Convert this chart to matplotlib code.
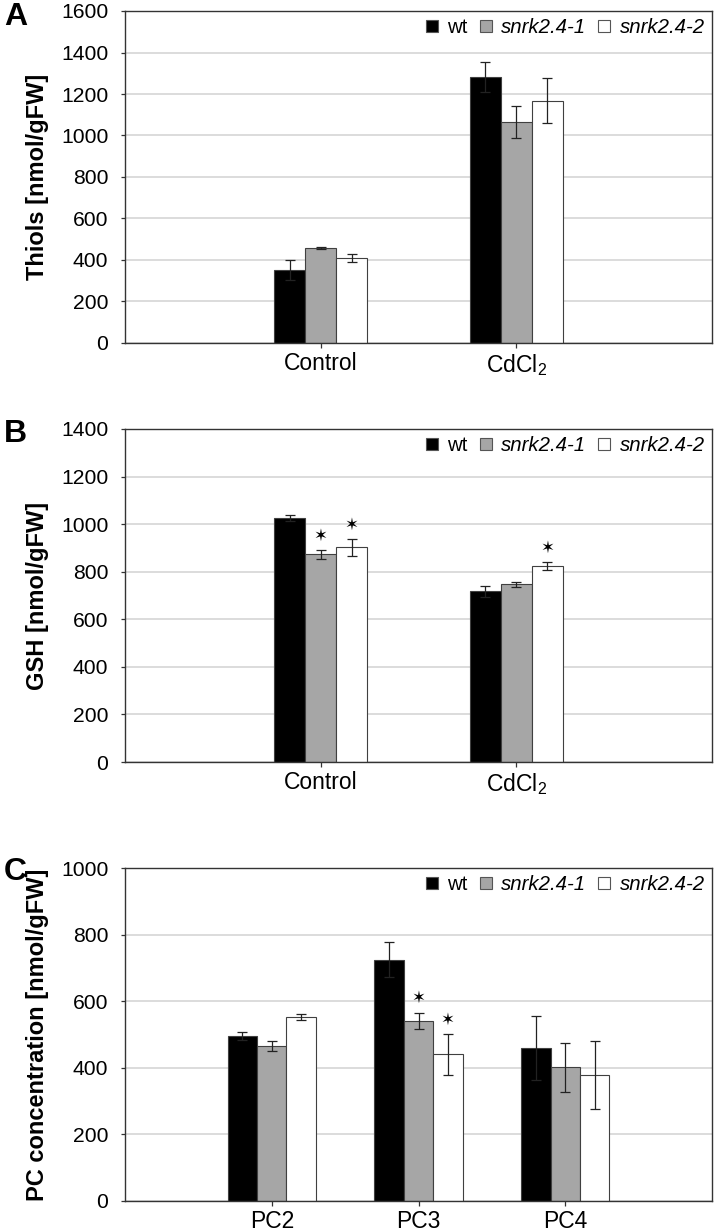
import matplotlib
matplotlib.use('Agg')
import matplotlib.pyplot as plt
from matplotlib.lines import Line2D
import numpy as np

plt.rcParams['font.family'] = ['Liberation Sans', 'DejaVu Sans']
plt.rcParams['mathtext.fontset'] = 'custom'
plt.rcParams['mathtext.rm'] = 'Liberation Sans'
plt.rcParams['mathtext.it'] = 'Liberation Sans:italic'

lines = ['wt', 'snrk2.4-1', 'snrk2.4-2']
colors = ['black', '#a6a6a6', 'white']

# panel A - total thiols
groups_ab = ['Control', 'CdCl$_2$']
thiols_wt = [350, 1284]
thiols_wt_err = [48, 72]
thiols_m1 = [456, 1065]
thiols_m1_err = [5, 75]
thiols_m2 = [409, 1168]
thiols_m2_err = [18, 110]

# panel B - GSH
gsh_wt = [1026, 717]
gsh_wt_err = [14, 23]
gsh_m1 = [873, 747]
gsh_m1_err = [18, 10]
gsh_m2 = [902, 824]
gsh_m2_err = [34, 17]
gsh_m1_sig = [True, False]
gsh_m2_sig = [True, True]

# panel C - phytochelatins
groups_c = ['PC2', 'PC3', 'PC4']
pc_wt = [495, 725, 459]
pc_wt_err = [12, 52, 96]
pc_m1 = [465, 541, 401]
pc_m1_err = [16, 25, 73]
pc_m2 = [553, 440, 378]
pc_m2_err = [8, 61, 102]
pc_m1_sig = [False, True, False]
pc_m2_sig = [False, True, False]


def panel(ax, groups, means, errs, sigs, width, ymax, ylabel):
    x = np.arange(len(groups))
    for i in range(3):
        xi = x + (i - 1) * width
        ax.bar(xi, means[i], width, color=colors[i], edgecolor='#404040',
               linewidth=0.8, zorder=2)
        ax.errorbar(xi, means[i], yerr=errs[i], fmt='none', ecolor='#222222',
                    elinewidth=0.9, capsize=3.3, capthick=0.9, zorder=3)
        if sigs[i] is not None:
            for k in range(len(groups)):
                if sigs[i][k]:
                    ax.annotate('\u2736', (xi[k], means[i][k] + errs[i][k]),
                                xytext=(0, 10.5), textcoords='offset points',
                                ha='center', va='center', fontsize=12,
                                family='DejaVu Sans')
    ax.set_xlim(-1, len(groups))
    ax.set_ylim(0, ymax)
    ax.set_yticks(np.arange(0, ymax + 1, 200))
    ax.set_xticks(x)
    ax.set_xticklabels(groups, fontsize=16.5)
    ax.tick_params(axis='y', length=3, width=0.9, pad=9, labelsize=15.2,
                   color='#333333')
    ax.tick_params(axis='x', length=3.5, width=0.9, pad=3, color='#333333')
    ax.yaxis.grid(True, color='#d9d9d9', linewidth=1.3, zorder=0)
    ax.set_axisbelow(True)
    for s in ax.spines.values():
        s.set_color('#333333')
        s.set_linewidth(1.0)
    ax.set_ylabel(ylabel, fontsize=17, fontweight='bold')
    ax.yaxis.set_label_coords(-0.13, 0.5)
    handles = [Line2D([], [], marker='s', ls='', markersize=8.6,
                      markerfacecolor=c, markeredgecolor='#555555',
                      markeredgewidth=0.8) for c in colors]
    leg = ax.legend(handles, lines, loc='upper right',
                    ncol=3, frameon=False, fontsize=14.7, handlelength=0.6,
                    handletextpad=0.45, columnspacing=0.6, borderaxespad=0.15,
                    borderpad=0.2)
    for t in leg.get_texts()[1:]:
        t.set_style('italic')


fig = plt.figure(figsize=(7.17, 12.31), dpi=100)
axA = fig.add_axes([125 / 717, 1 - 343 / 1231, 587 / 717, 332 / 1231])
axB = fig.add_axes([125 / 717, 1 - 762 / 1231, 587 / 717, 333 / 1231])
axC = fig.add_axes([125 / 717, 1 - 1201 / 1231, 587 / 717, 333 / 1231])

panel(axA, groups_ab, [thiols_wt, thiols_m1, thiols_m2],
      [thiols_wt_err, thiols_m1_err, thiols_m2_err], [None, None, None],
      0.158, 1600, 'Thiols [nmol/gFW]')
panel(axB, groups_ab, [gsh_wt, gsh_m1, gsh_m2],
      [gsh_wt_err, gsh_m1_err, gsh_m2_err], [None, gsh_m1_sig, gsh_m2_sig],
      0.158, 1400, 'GSH [nmol/gFW]')
panel(axC, groups_c, [pc_wt, pc_m1, pc_m2],
      [pc_wt_err, pc_m1_err, pc_m2_err], [None, pc_m1_sig, pc_m2_sig],
      0.2, 1000, 'PC concentration [nmol/gFW]')

for letter, ytop in [('A', 2), ('B', 419), ('C', 857)]:
    fig.text(4 / 717, 1 - ytop / 1231, letter, fontsize=23, fontweight='bold',
             va='top', ha='left')

fig.savefig('out.png', dpi=100)
